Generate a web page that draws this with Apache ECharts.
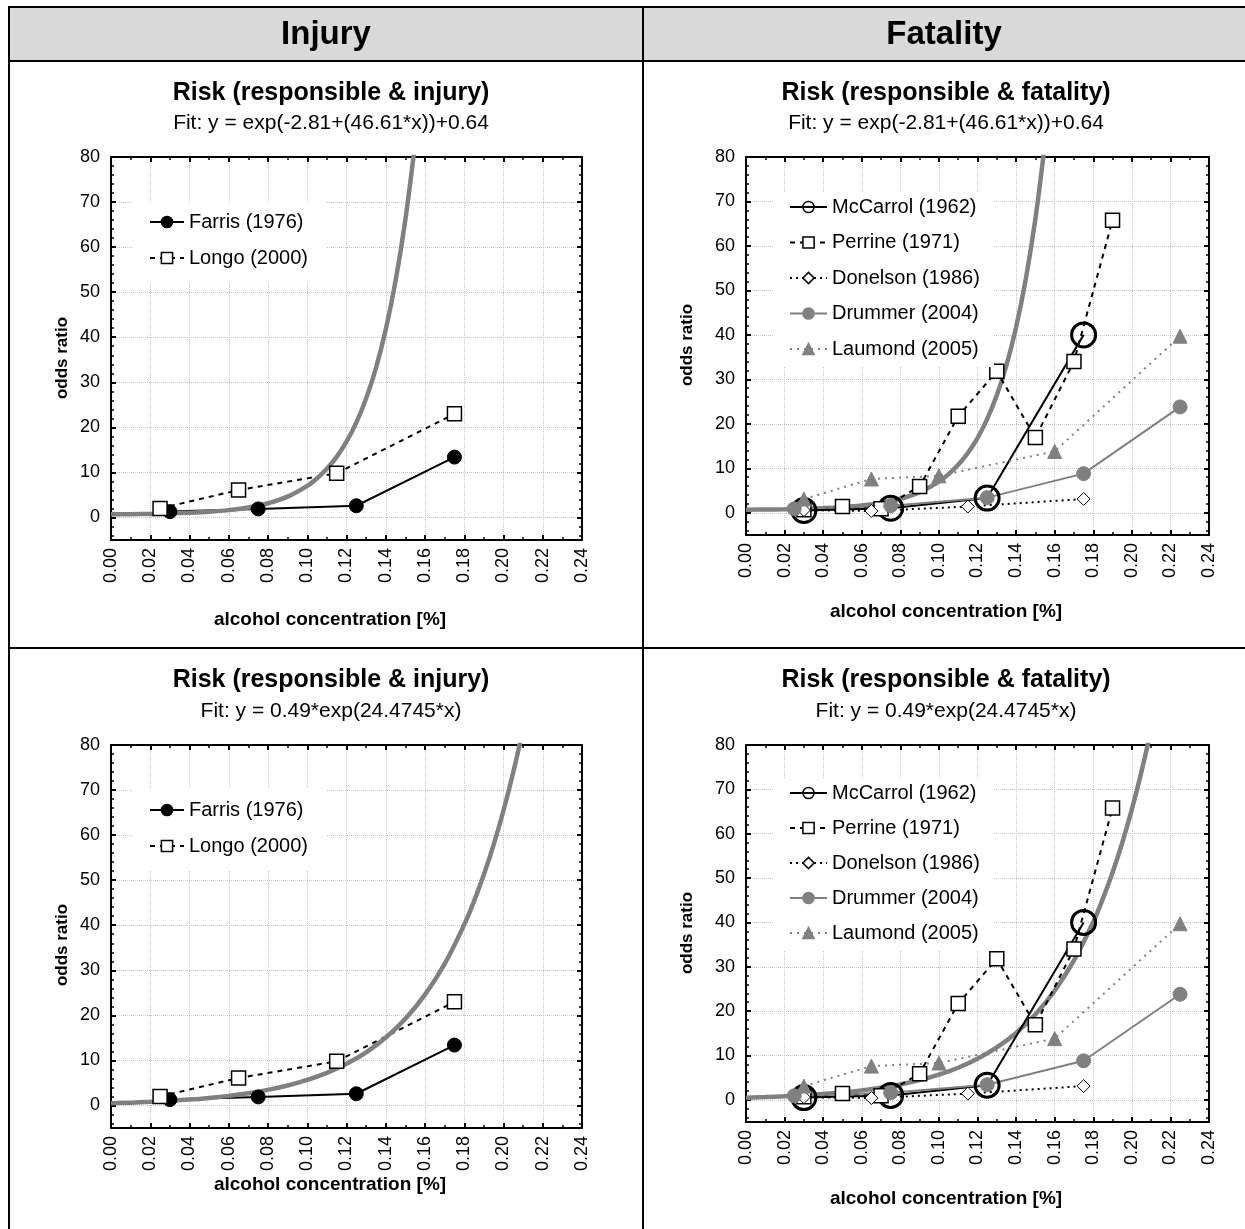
<!DOCTYPE html>
<html>
<head>
<meta charset="utf-8">
<script src="https://cdn.jsdelivr.net/npm/echarts@6/dist/echarts.min.js"></script>
<style>
  html, body { margin: 0; padding: 0; background: #fff; }
  #chart { width: 1245px; height: 1229px; }
</style>
</head>
<body>
<div id="chart"></div>
<script>
const FONT = '"Liberation Sans", Arial, sans-serif';
const GREY = "#808080";

// injury studies
const farrisX = [0.03, 0.075, 0.125, 0.175];
const farrisY = [1.3, 1.9, 2.6, 13.4];
const longoX = [0.025, 0.065, 0.115, 0.175];
const longoY = [2.0, 6.1, 9.8, 23.0];

// fatality studies
const mccarrolX = [0.03, 0.075, 0.125, 0.175];
const mccarrolY = [0.5, 1.0, 3.3, 40.0];
const perrineX = [0.03, 0.05, 0.07, 0.09, 0.11, 0.13, 0.15, 0.17, 0.19];
const perrineY = [0.7, 1.4, 0.9, 5.9, 21.7, 31.8, 16.9, 34.0, 65.8];
const donelsonX = [0.03, 0.065, 0.115, 0.175];
const donelsonY = [0.6, 0.4, 1.4, 3.1];
const drummerX = [0.025, 0.075, 0.125, 0.175, 0.225];
const drummerY = [0.9, 1.6, 3.4, 8.8, 23.8];
const laumondX = [0.03, 0.065, 0.1, 0.16, 0.225];
const laumondY = [3.1, 7.6, 8.3, 13.8, 39.7];

// fitted curves
const fitAX = [0, 0.01, 0.02, 0.03, 0.04, 0.05, 0.06, 0.07, 0.08, 0.09, 0.1, 0.105, 0.11, 0.115, 0.12, 0.125, 0.13, 0.135, 0.14, 0.145, 0.15, 0.155];
const fitAY = [0.70, 0.74, 0.79, 0.88, 1.03, 1.26, 1.63, 2.21, 3.15, 4.63, 7.01, 8.68, 10.79, 13.45, 16.81, 21.05, 26.41, 33.17, 41.71, 52.49, 66.10, 83.28];
const fitBX = [0, 0.01, 0.02, 0.03, 0.04, 0.05, 0.06, 0.07, 0.08, 0.09, 0.1, 0.11, 0.12, 0.13, 0.14, 0.15, 0.16, 0.17, 0.18, 0.185, 0.19, 0.195, 0.2, 0.205, 0.21];
const fitBY = [0.49, 0.63, 0.80, 1.02, 1.30, 1.67, 2.13, 2.72, 3.47, 4.43, 5.66, 7.23, 9.24, 11.80, 15.08, 19.26, 24.60, 31.42, 40.13, 45.35, 51.26, 57.90, 65.47, 74.00, 83.63];

const injuryNames = ["Farris (1976)", "Longo (2000)"];
const fatalNames = ["McCarrol (1962)", "Perrine (1971)", "Donelson (1986)", "Drummer (2004)", "Laumond (2005)"];

const zip = (xs, ys) => xs.map((x, i) => [x, ys[i]]);

const grids = [
  { left: 111, top: 157, width: 471, height: 383 },
  { left: 746, top: 157, width: 463, height: 378 },
  { left: 111, top: 745, width: 471, height: 383 },
  { left: 746, top: 745, width: 463, height: 377 }
];

const frame = { color: "#000", width: 2 };

function axesFor(g) {
  const tick = { inside: true, length: 5, lineStyle: frame };
  const minor = { inside: true, length: 3, lineStyle: { color: "#000", width: 1.5 } };
  const split = { show: true, lineStyle: { color: "#c4c4c4", type: "dotted", width: 1 } };
  const xBase = { type: "value", gridIndex: g, min: 0, max: 0.24, interval: 0.02,
    axisLine: { onZero: false, lineStyle: frame } };
  const yBase = { type: "value", gridIndex: g, min: -5, max: 80, splitNumber: 8,
    axisLine: { onZero: false, lineStyle: frame } };
  return {
    x: [
      Object.assign({}, xBase, { position: "bottom", axisTick: tick,
        minorTick: Object.assign({ show: true, splitNumber: 2 }, minor),
        axisLabel: { rotate: 90, margin: 8, fontSize: 18, color: "#000", fontFamily: FONT,
          formatter: v => v.toFixed(2) },
        splitLine: split }),
      Object.assign({}, xBase, { position: "top", axisTick: tick,
        minorTick: Object.assign({ show: true, splitNumber: 2 }, minor),
        axisLabel: { show: false }, splitLine: { show: false } })
    ],
    y: [
      Object.assign({}, yBase, { position: "left", axisTick: tick,
        minorTick: Object.assign({ show: true, splitNumber: 5 }, minor),
        axisLabel: { margin: 11, fontSize: 18, color: "#000", fontFamily: FONT, showMinLabel: false },
        splitLine: split }),
      Object.assign({}, yBase, { position: "right", axisTick: tick,
        minorTick: Object.assign({ show: true, splitNumber: 5 }, minor),
        axisLabel: { show: false }, splitLine: { show: false } })
    ]
  };
}

function fitSeries(a, xs, ys) {
  return { type: "line", xAxisIndex: a, yAxisIndex: a, data: zip(xs, ys), symbol: "none",
    smooth: 0.4, silent: true,
    lineStyle: { color: GREY, width: 4.5 } };
}

function line(a, name, xs, ys, o) {
  return { type: "line", name: name, xAxisIndex: a, yAxisIndex: a, data: zip(xs, ys),
    symbol: o.symbol, symbolSize: o.size,
    itemStyle: { color: o.fill, borderColor: o.stroke, borderWidth: o.bw, opacity: 1 },
    lineStyle: { color: o.line, width: o.lw || 2, type: o.type || "solid" } };
}

function injurySeries(a) {
  return [
    line(a, injuryNames[0], farrisX, farrisY, { symbol: "circle", size: 14, fill: "#000", stroke: "#000", bw: 1, line: "#000" }),
    line(a, injuryNames[1], longoX, longoY, { symbol: "rect", size: 14, fill: "#fff", stroke: "#000", bw: 1.5, line: "#000", type: [5, 5] })
  ];
}

function fatalSeries(a) {
  return [
    line(a, fatalNames[0], mccarrolX, mccarrolY, { symbol: "circle", size: 24, fill: "rgba(255,255,255,0)", stroke: "#000", bw: 3, line: "#000" }),
    line(a, fatalNames[1], perrineX, perrineY, { symbol: "rect", size: 14, fill: "#fff", stroke: "#000", bw: 1.5, line: "#000", type: [5, 5] }),
    line(a, fatalNames[2], donelsonX, donelsonY, { symbol: "diamond", size: 13, fill: "#fff", stroke: "#000", bw: 1, line: "#000", type: [2, 4] }),
    line(a, fatalNames[3], drummerX, drummerY, { symbol: "circle", size: 14, fill: GREY, stroke: GREY, bw: 1, line: GREY }),
    line(a, fatalNames[4], laumondX, laumondY, { symbol: "triangle", size: 14, fill: GREY, stroke: GREY, bw: 1, line: GREY, type: [2, 5] })
  ];
}

const xAxes = [], yAxes = [];
grids.forEach((g, i) => {
  const ax = axesFor(i);
  xAxes.push(...ax.x);
  yAxes.push(...ax.y);
});

// axis index 0,2,4,6 are the main axes of each grid
const series = [
  ...injurySeries(0), fitSeries(0, fitAX, fitAY),
  fitSeries(2, fitAX, fitAY), ...fatalSeries(2),
  ...injurySeries(4), fitSeries(4, fitBX, fitBY),
  fitSeries(6, fitBX, fitBY), ...fatalSeries(6)
];

function legendAt(left, top, names, pad, gap, w) {
  return { left: left, top: top, orient: "vertical", data: names, padding: pad,
    itemWidth: w, itemHeight: 14, itemGap: gap, backgroundColor: "#fff",
    selectedMode: false, itemStyle: { borderWidth: 1.5 },
    textStyle: { fontSize: 20, lineHeight: 20, color: "#000", fontFamily: FONT, padding: [6, 0, 0, 0] } };
}

const legends = [
  legendAt(133, 202, injuryNames, [7, 18, 11, 16], 10, 34),
  legendAt(773, 192, fatalNames, [2, 14, 5, 16], 9.5, 37),
  legendAt(133, 788, injuryNames, [9, 18, 11, 16], 10, 34),
  legendAt(773, 778, fatalNames, [2, 14, 5, 16], 9, 37)
];

function txt(x, y, s, font, rot) {
  return { type: "text", x: x, y: y, rotation: rot || 0, silent: true,
    style: { text: s, x: 0, y: 0, font: font, fill: "#000",
      textAlign: "center", textVerticalAlign: "middle", align: "center", verticalAlign: "middle" } };
}
function box(x, y, w, h, c) {
  return { type: "rect", silent: true, shape: { x: x, y: y, width: w, height: h }, style: { fill: c } };
}

const headFont = "bold 33px " + FONT;
const titleFont = "bold 25px " + FONT;
const subFont = "21px " + FONT;
const nameFont = "bold 19px " + FONT;
const yNameFont = "bold 17px " + FONT;

const graphics = [
  box(10, 8, 1235, 52, "#d9d9d9"),
  box(8, 6, 1237, 2, "#000"),
  box(8, 60, 1237, 2, "#000"),
  box(8, 6, 2, 1223, "#000"),
  box(642, 6, 2, 1223, "#000"),
  box(8, 647, 1237, 2, "#000"),
  txt(326, 35, "Injury", headFont),
  txt(944, 35, "Fatality", headFont),
  txt(331, 93, "Risk (responsible & injury)", titleFont),
  txt(331, 123, "Fit: y = exp(-2.81+(46.61*x))+0.64", subFont),
  txt(946, 93, "Risk (responsible & fatality)", titleFont),
  txt(946, 123, "Fit: y = exp(-2.81+(46.61*x))+0.64", subFont),
  txt(331, 680, "Risk (responsible & injury)", titleFont),
  txt(331, 711, "Fit: y = 0.49*exp(24.4745*x)", subFont),
  txt(946, 680, "Risk (responsible & fatality)", titleFont),
  txt(946, 711, "Fit: y = 0.49*exp(24.4745*x)", subFont),
  txt(330, 620, "alcohol concentration [%]", nameFont),
  txt(946, 612, "alcohol concentration [%]", nameFont),
  txt(330, 1185, "alcohol concentration [%]", nameFont),
  txt(946, 1199, "alcohol concentration [%]", nameFont),
  txt(62, 358, "odds ratio", yNameFont, Math.PI / 2),
  txt(687, 345, "odds ratio", yNameFont, Math.PI / 2),
  txt(62, 945, "odds ratio", yNameFont, Math.PI / 2),
  txt(687, 933, "odds ratio", yNameFont, Math.PI / 2)
];

const chart = echarts.init(document.getElementById("chart"), null, { renderer: "canvas" });
chart.setOption({
  animation: false,
  backgroundColor: "#fff",
  textStyle: { fontFamily: FONT },
  grid: grids,
  xAxis: xAxes,
  yAxis: yAxes,
  legend: legends,
  series: series,
  graphic: graphics
});
</script>
</body>
</html>
